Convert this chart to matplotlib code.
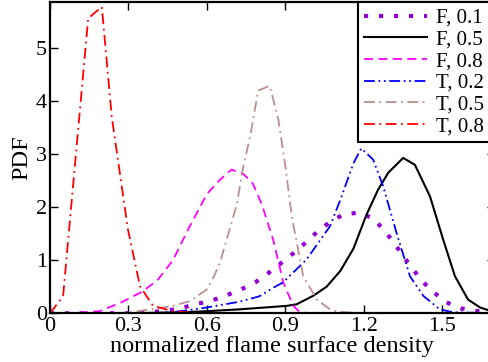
import matplotlib
matplotlib.use("Agg")
import matplotlib.pyplot as plt

plt.rcParams["font.family"] = ["Liberation Serif", "DejaVu Serif"]

# PDF curves of the normalized flame surface density
f01_x = [0.0, 0.3, 0.43, 0.497, 0.554, 0.612, 0.67, 0.726, 0.784, 0.835, 0.882, 0.93, 0.977,
         1.02, 1.07, 1.12, 1.18, 1.235, 1.277, 1.315, 1.35, 1.386, 1.424, 1.468, 1.514,
         1.57, 1.63, 1.7]
f01_y = [0.0, 0.0, 0.04, 0.09, 0.17, 0.23, 0.33, 0.44, 0.58, 0.76, 0.94, 1.13, 1.33,
         1.53, 1.72, 1.86, 1.9, 1.79, 1.57, 1.33, 1.08, 0.84, 0.6, 0.39, 0.21,
         0.094, 0.044, 0.02]

f05_x = [0.0, 0.3, 0.5, 0.6, 0.726, 0.905, 0.943, 1.006, 1.057, 1.11, 1.16, 1.21, 1.254,
         1.293, 1.35, 1.395, 1.453, 1.503, 1.548, 1.598, 1.644, 1.675, 1.7]
f05_y = [0.0, 0.0, 0.02, 0.04, 0.075, 0.14, 0.17, 0.33, 0.5, 0.8, 1.22, 1.86, 2.33,
         2.65, 2.93, 2.8, 2.2, 1.39, 0.7, 0.26, 0.11, 0.06, 0.04]

f08_x = [0.0, 0.1, 0.19, 0.27, 0.35, 0.41, 0.47, 0.53, 0.6, 0.65, 0.694, 0.739, 0.775,
         0.81, 0.853, 0.892, 0.93, 0.955, 1.0, 1.7]
f08_y = [0.0, 0.01, 0.04, 0.2, 0.4, 0.62, 1.0, 1.6, 2.25, 2.52, 2.71, 2.63, 2.45,
         2.05, 1.39, 0.58, 0.14, 0.02, 0.0, 0.0]

t02_x = [0.0, 0.4, 0.5, 0.6, 0.726, 0.8, 0.853, 0.89, 0.98, 1.07, 1.11, 1.16, 1.19,
         1.235, 1.274, 1.325, 1.376, 1.427, 1.49, 1.54, 1.7]
t02_y = [0.0, 0.0, 0.04, 0.11, 0.22, 0.32, 0.48, 0.58, 1.01, 1.64, 2.14, 2.83, 3.11,
         2.9, 2.39, 1.51, 0.7, 0.33, 0.075, 0.02, 0.0]

t05_x = [0.0, 0.3, 0.382, 0.47, 0.535, 0.6, 0.63, 0.65, 0.714, 0.739, 0.765, 0.796, 0.84,
         0.873, 0.9, 0.925, 0.968, 1.02, 1.07, 1.1, 1.2, 1.7]
t05_y = [0.0, 0.01, 0.075, 0.14, 0.23, 0.45, 0.73, 0.96, 2.05, 2.77, 3.33, 4.2, 4.29,
         3.65, 2.77, 1.8, 0.7, 0.26, 0.075, 0.03, 0.0, 0.0]

t08_x = [0.0, 0.05, 0.146, 0.198, 0.236, 0.298, 0.344, 0.394, 0.47, 0.55, 0.7, 1.0, 1.7]
t08_y = [0.0, 0.32, 5.56, 5.78, 3.71, 1.58, 0.51, 0.14, 0.04, 0.01, 0.0, 0.0, 0.0]

x_ticks = [0, 0.3, 0.6, 0.9, 1.2, 1.5]
x_tick_labels = ["0", "0.3", "0.6", "0.9", "1.2", "1.5"]
y_ticks = [0, 1, 2, 3, 4, 5]

fig = plt.figure(figsize=(4.88, 3.62), dpi=100)
ax = fig.add_axes([50 / 488, 48.7 / 362, 444.7 / 488, 311.3 / 362])

ax.plot(f01_x, f01_y, color="#9400d3", lw=3.0, ls=(0, (1, 2.6)), dash_capstyle="butt",
        label="F, 0.1")
ax.plot(f05_x, f05_y, color="black", lw=1.5, label="F, 0.5")
ax.plot(f08_x, f08_y, color="#ff00ff", lw=1.3, ls=(0, (5, 3)), label="F, 0.8")
ax.plot(t02_x, t02_y, color="#0000ff", lw=1.3, ls=(0, (6, 2, 1, 2, 1, 2)), label="T, 0.2")
ax.plot(t05_x, t05_y, color="#bc8f8f", lw=1.3, ls=(0, (6, 2.5, 1, 2.5)), label="T, 0.5")
ax.plot(t08_x, t08_y, color="#ff0000", lw=1.3, ls=(0, (6, 2.5, 1, 2.5)), label="T, 0.8")

ax.set_xlim(0, 1.7)
ax.set_ylim(0, 5.87)
ax.set_xticks(x_ticks)
ax.set_xticklabels(x_tick_labels)
ax.set_yticks(y_ticks)
ax.tick_params(direction="in", top=True, right=True, length=6, width=1,
               labelsize=16)
ax.tick_params(axis="x", pad=3)
ax.tick_params(axis="y", pad=2)
for s in ax.spines.values():
    s.set_linewidth(1.6)

ax.set_xlabel("normalized flame surface density", fontsize=17.5, labelpad=0)
ax.set_ylabel("PDF", fontsize=17.5, labelpad=3)

leg = ax.legend(loc="upper left", bbox_to_anchor=((358 - 50) / 444.7, 1.0),
                borderaxespad=0, fontsize=15, fancybox=False, framealpha=1,
                edgecolor="black", handlelength=3.0, handletextpad=0.45,
                labelspacing=0.1, borderpad=0.3)
leg.get_frame().set_linewidth(1.5)

fig.savefig("out.png", dpi=100)
